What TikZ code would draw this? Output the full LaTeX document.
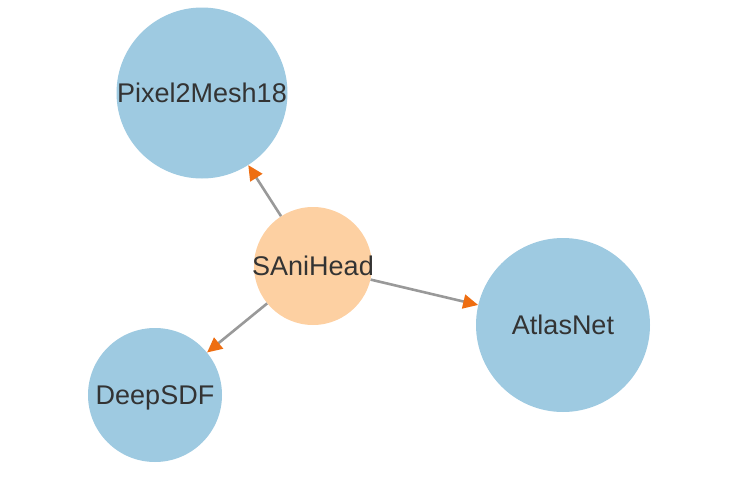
\documentclass[tikz,border=0pt]{standalone}
\usepackage{fontspec}
\setmainfont{Liberation Sans}
\usetikzlibrary{arrows.meta}
\definecolor{bluec}{HTML}{9ECAE1}
\definecolor{orangec}{HTML}{FDD0A2}
\definecolor{tipc}{HTML}{EE6E12}
\definecolor{linec}{HTML}{999999}
\definecolor{textc}{HTML}{333333}
\tikzset{
  ball/.style={circle,draw=none,inner sep=0pt,minimum size=#1},
  target/.style={ball=#1,fill=bluec},
  source/.style={ball=#1,fill=orangec},
  lbl/.style={anchor=base,inner sep=0pt,text=textc,font=\fontsize{27}{32}\selectfont},
  link/.style={draw=linec,line width=2.6pt,-{Triangle[length=15pt,width=14pt,color=tipc]}}
}
\begin{document}
\begin{tikzpicture}[x=1pt,y=-1pt]
\useasboundingbox (0,0) rectangle (742,482);
\node[target=171pt] (p) at (202,93) {};
\node[source=118pt] (s) at (313,266) {};
\node[target=174pt] (a) at (563,325) {};
\node[target=134pt] (d) at (155,395) {};
\node[lbl] (pl) at (202,102.7) {Pixel2Mesh18};
\node[lbl] (sl) at (313,275.7) {SAniHead};
\node[lbl] (al) at (563,334.7) {AtlasNet};
\node[lbl] (dl) at (155,404.7) {DeepSDF};
\draw[link] (s) -- (p);
\draw[link] (s) -- (a);
\draw[link] (s) -- (d);
\end{tikzpicture}
\end{document}
